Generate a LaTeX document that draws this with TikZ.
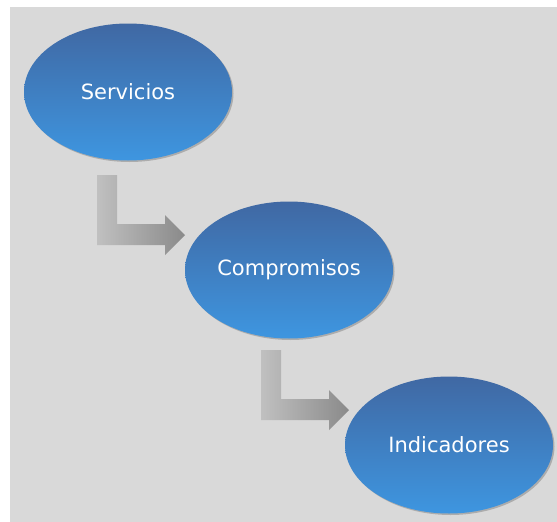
\documentclass[tikz,border=0pt]{standalone}
\usepackage{fontspec}
\newfontfamily\labelfont{DejaVu Sans}
\definecolor{panelgray}{RGB}{217, 217, 217}
\definecolor{ovaltop}{RGB}{64, 104, 163}
\definecolor{ovalbottom}{RGB}{62, 150, 224}
\definecolor{arrowlight}{RGB}{192, 192, 192}
\definecolor{arrowdark}{RGB}{138, 138, 138}
\usetikzlibrary{shapes.geometric, shadows}

\begin{document}
\begin{tikzpicture}[x=1pt, y=-1pt,
    stage/.style={ellipse, minimum width=208pt, minimum height=137pt, inner sep=0pt,
      top color=ovaltop, bottom color=ovalbottom, text=white,
      font=\labelfont\fontsize{21}{24}\selectfont,
      drop shadow={opacity=0.5, shadow xshift=1.5pt, shadow yshift=-1.5pt}},
    bentarrow/.style={left color=arrowlight, right color=arrowdark, draw=none}]
  \useasboundingbox (0, 0) rectangle (557, 522);
  \fill[white] (0, 0) rectangle (557, 522);

  % Background panel
  \fill[panelgray] (10, 7) rectangle (557, 522);

  % Stages
  \node[stage] (serv) at (128, 92) {Servicios};
  \node[stage] (comp) at (289, 270) {Compromisos};
  \node[stage] (ind) at (449, 445) {Indicadores};

  % Bent arrows
  \foreach \dx/\dy in {0/0, 164/175}
    \shade[bentarrow, shift={(\dx, \dy)}]
      (97, 175) -- (117, 175) -- (117, 224) -- (165, 224) -- (165, 215)
      -- (185, 235) -- (165, 255) -- (165, 245) -- (97, 245) -- cycle;
\end{tikzpicture}
\end{document}
